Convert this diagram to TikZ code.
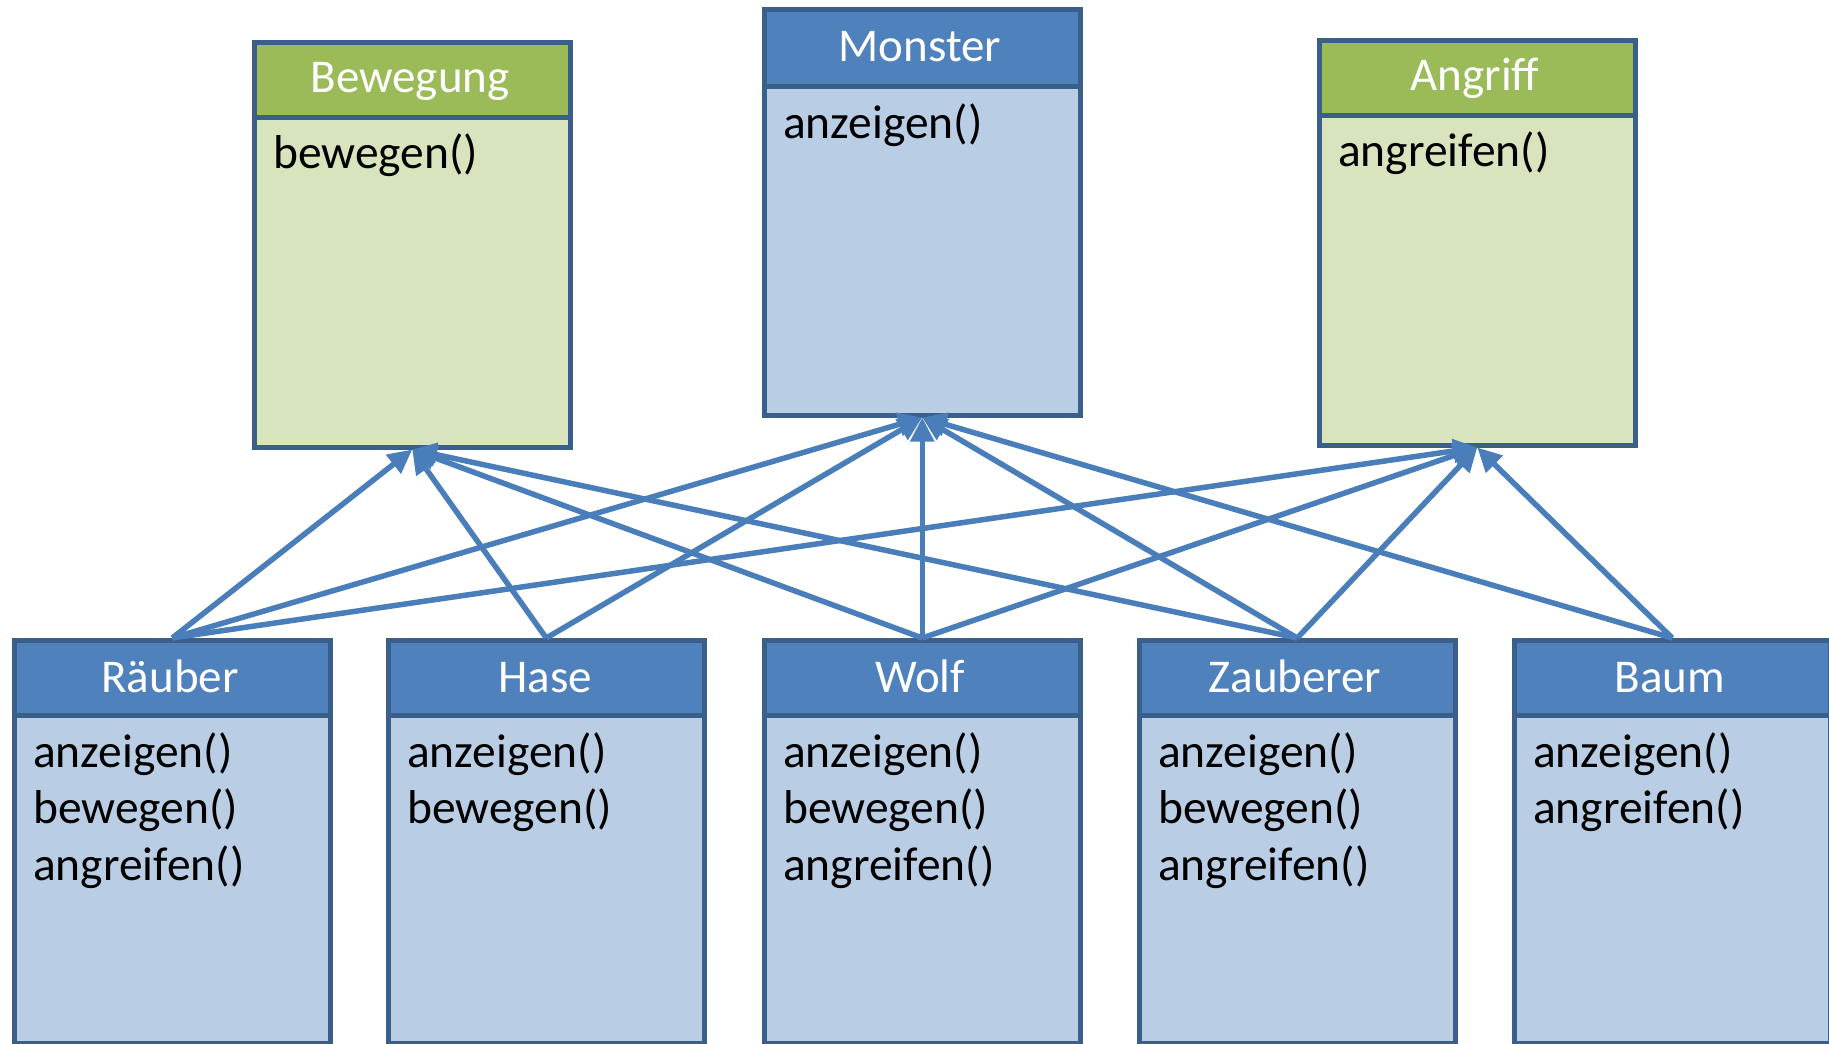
\documentclass[tikz,border=0pt]{standalone}
\usepackage{fontspec}
\setmainfont{Carlito}
\usetikzlibrary{arrows.meta}
\definecolor{bord}{HTML}{3A5F8B}
\definecolor{hblue}{HTML}{4F81BD}
\definecolor{bblue}{HTML}{B9CDE5}
\definecolor{hgreen}{HTML}{9BBB59}
\definecolor{bgreen}{HTML}{D7E4BD}
\definecolor{arrc}{HTML}{4A7EBB}
\tikzset{
  box/.style={draw=bord, line width=4.5pt, minimum width=316pt, anchor=north west, inner sep=0pt},
  bodyb/.style={box, fill=bblue},
  headb/.style={box, fill=hblue},
  bodyg/.style={box, fill=bgreen},
  headg/.style={box, fill=hgreen},
  htext/.style={text=white, anchor=base, inner sep=0pt, font=\fontsize{47}{56}\selectfont},
  mtext/.style={text=black, anchor=base west, inner sep=0pt, font=\fontsize{47.5}{56}\selectfont},
  arr/.style={draw=arrc, line width=5.5pt, -{Triangle[length=24pt,width=23pt]}}
}
\begin{document}
\begin{tikzpicture}[x=1pt,y=-1pt]
\useasboundingbox (0,0) rectangle (1829,1044);
% top boxes
\node[bodyg, minimum height=405pt] (bew) at (252,40) {};
\node[headg, minimum height=75pt] (bewh) at (252,40) {};
\node[htext] (bewt) at (410,92) {Bewegung};
\node[mtext] (bew1) at (273,168) {bewegen()};

\node[bodyb, minimum height=406pt] (mon) at (762,7) {};
\node[headb, minimum height=77pt] (monh) at (762,7) {};
\node[htext] (mont) at (920,61) {Monster};
\node[mtext] (mon1) at (783,138) {anzeigen()};

\node[bodyg, minimum height=405pt] (ang) at (1317,38) {};
\node[headg, minimum height=75pt] (angh) at (1317,38) {};
\node[htext] (angt) at (1475,90) {Angriff};
\node[mtext] (ang1) at (1338,166) {angreifen()};

% bottom boxes
\node[bodyb, minimum height=403pt] (rae) at (12,638) {};
\node[headb, minimum height=75pt] (raeh) at (12,638) {};
\node[htext] (raet) at (170,692) {Räuber};
\node[mtext] (rae1) at (33,767) {anzeigen()};
\node[mtext] (rae2) at (33,823.5) {bewegen()};
\node[mtext] (rae3) at (33,880) {angreifen()};

\node[bodyb, minimum height=403pt] (has) at (386,638) {};
\node[headb, minimum height=75pt] (hash) at (386,638) {};
\node[htext] (hast) at (545,692) {Hase};
\node[mtext] (has1) at (407,767) {anzeigen()};
\node[mtext] (has2) at (407,823.5) {bewegen()};

\node[bodyb, minimum height=403pt] (wol) at (762,638) {};
\node[headb, minimum height=75pt] (wolh) at (762,638) {};
\node[htext] (wolt) at (920,692) {Wolf};
\node[mtext] (wol1) at (783,767) {anzeigen()};
\node[mtext] (wol2) at (783,823.5) {bewegen()};
\node[mtext] (wol3) at (783,880) {angreifen()};

\node[bodyb, minimum height=403pt] (zau) at (1137,638) {};
\node[headb, minimum height=75pt] (zauh) at (1137,638) {};
\node[htext] (zaut) at (1295,692) {Zauberer};
\node[mtext] (zau1) at (1158,767) {anzeigen()};
\node[mtext] (zau2) at (1158,823.5) {bewegen()};
\node[mtext] (zau3) at (1158,880) {angreifen()};

\node[bodyb, minimum height=403pt] (bau) at (1512,638) {};
\node[headb, minimum height=75pt] (bauh) at (1512,638) {};
\node[htext] (baut) at (1670,692) {Baum};
\node[mtext] (bau1) at (1533,767) {anzeigen()};
\node[mtext] (bau2) at (1533,823.5) {angreifen()};

% connectors
\draw[arr] (raeh.north) -- (bew.south);
\draw[arr] (raeh.north) -- (mon.south);
\draw[arr] (raeh.north) -- (ang.south);
\draw[arr] (hash.north) -- (bew.south);
\draw[arr] (hash.north) -- (mon.south);
\draw[arr] (wolh.north) -- (bew.south);
\draw[arr] (wolh.north) -- (mon.south);
\draw[arr] (wolh.north) -- (ang.south);
\draw[arr] (zauh.north) -- (bew.south);
\draw[arr] (zauh.north) -- (mon.south);
\draw[arr] (zauh.north) -- (ang.south);
\draw[arr] (bauh.north) -- (mon.south);
\draw[arr] (bauh.north) -- (ang.south);
\end{tikzpicture}
\end{document}
